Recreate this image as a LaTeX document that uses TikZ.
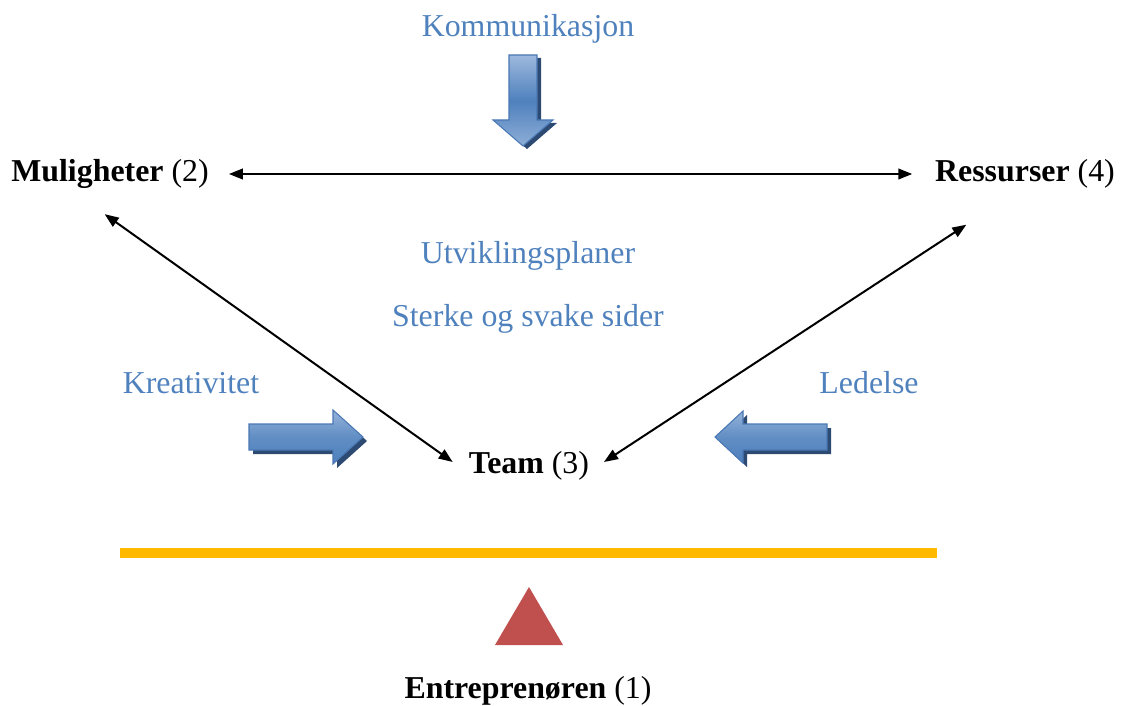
\documentclass[tikz,border=0pt]{standalone}
\usepackage{fontspec}
\setmainfont{Liberation Serif}
\usetikzlibrary{arrows.meta}
\definecolor{officeblue}{HTML}{4F81BD}
\definecolor{lightblue}{HTML}{9DB9DD}
\definecolor{shadowblue}{HTML}{2C4A72}
\definecolor{edgeblue}{HTML}{4A78B4}
\definecolor{barorange}{HTML}{FFBA00}
\definecolor{tri}{HTML}{C0504D}
\tikzset{
  lbl/.style={font=\fontsize{23.9}{28}\selectfont, inner sep=0pt},
  bluelbl/.style={lbl, text=officeblue},
  conn/.style={line width=1.5pt, {Triangle[length=10.5pt,width=8pt]}-{Triangle[length=10.5pt,width=8pt]}},
  blockshadow/.style={fill=shadowblue},
  blockvert/.style={top color=lightblue, bottom color=lightblue!80!officeblue, middle color=officeblue, draw=edgeblue, line width=0.8pt},
  blockhor/.style={top color=lightblue!90!officeblue, bottom color=officeblue, middle color=officeblue!90!white, draw=edgeblue, line width=0.8pt},
}
\begin{document}
\begin{tikzpicture}[x=0.75pt, y=-0.75pt]
\useasboundingbox (0,0) rectangle (1125,706);

% labels
\node[bluelbl] (komm) at (528,29) {Kommunikasjon};
\node[lbl] (mul) at (110,174) {\textbf{Muligheter} (2)};
\node[lbl] (res) at (1025,174) {\textbf{Ressurser} (4)};
\node[bluelbl] (utv) at (528,256) {Utviklingsplaner};
\node[bluelbl] (sterk) at (528,319) {Sterke og svake sider};
\node[bluelbl] (kreat) at (191,383) {Kreativitet};
\node[bluelbl] (led) at (869,383) {Ledelse};
\node[lbl] (team) at (529,466) {\textbf{Team} (3)};
\node[lbl] (entr) at (528,691) {\textbf{Entreprenøren} (1)};

% downward block arrow below Kommunikasjon
\fill[blockshadow] (513,58) -- (541,58) -- (541,123) -- (557,123) -- (527,149) -- (497,123) -- (513,123) -- cycle;
\path[blockvert] (509,55) -- (537,55) -- (537,120) -- (553,120) -- (523,146) -- (493,120) -- (509,120) -- cycle;

% right-pointing block arrow
\fill[blockshadow] (253,428) -- (337,428) -- (337,414) -- (367,441) -- (337,468) -- (337,454) -- (253,454) -- cycle;
\path[blockhor] (249,424) -- (333,424) -- (333,410) -- (363,437) -- (333,464) -- (333,450) -- (249,450) -- cycle;

% left-pointing block arrow
\fill[blockshadow] (719,441) -- (747,415) -- (747,428) -- (831,428) -- (831,454) -- (747,454) -- (747,467) -- cycle;
\path[blockhor] (715,437) -- (743,411) -- (743,424) -- (827,424) -- (827,450) -- (743,450) -- (743,463) -- cycle;

% connectors
\draw[conn] ([xshift=15pt]mul.east) -- ([xshift=-17pt]res.west);
\draw[conn] ([xshift=-4pt,yshift=-19pt]mul.south) -- ([xshift=-12pt,yshift=3pt]team.west);
\draw[conn] ([xshift=-44pt,yshift=-27pt]res.south) -- ([xshift=11pt,yshift=3pt]team.east);

% balance bar and fulcrum
\draw[barorange, line width=7.5pt] (120,553) -- (937,553);
\fill[tri] (529,587) -- (563,645) -- (495,645) -- cycle;
\end{tikzpicture}
\end{document}
